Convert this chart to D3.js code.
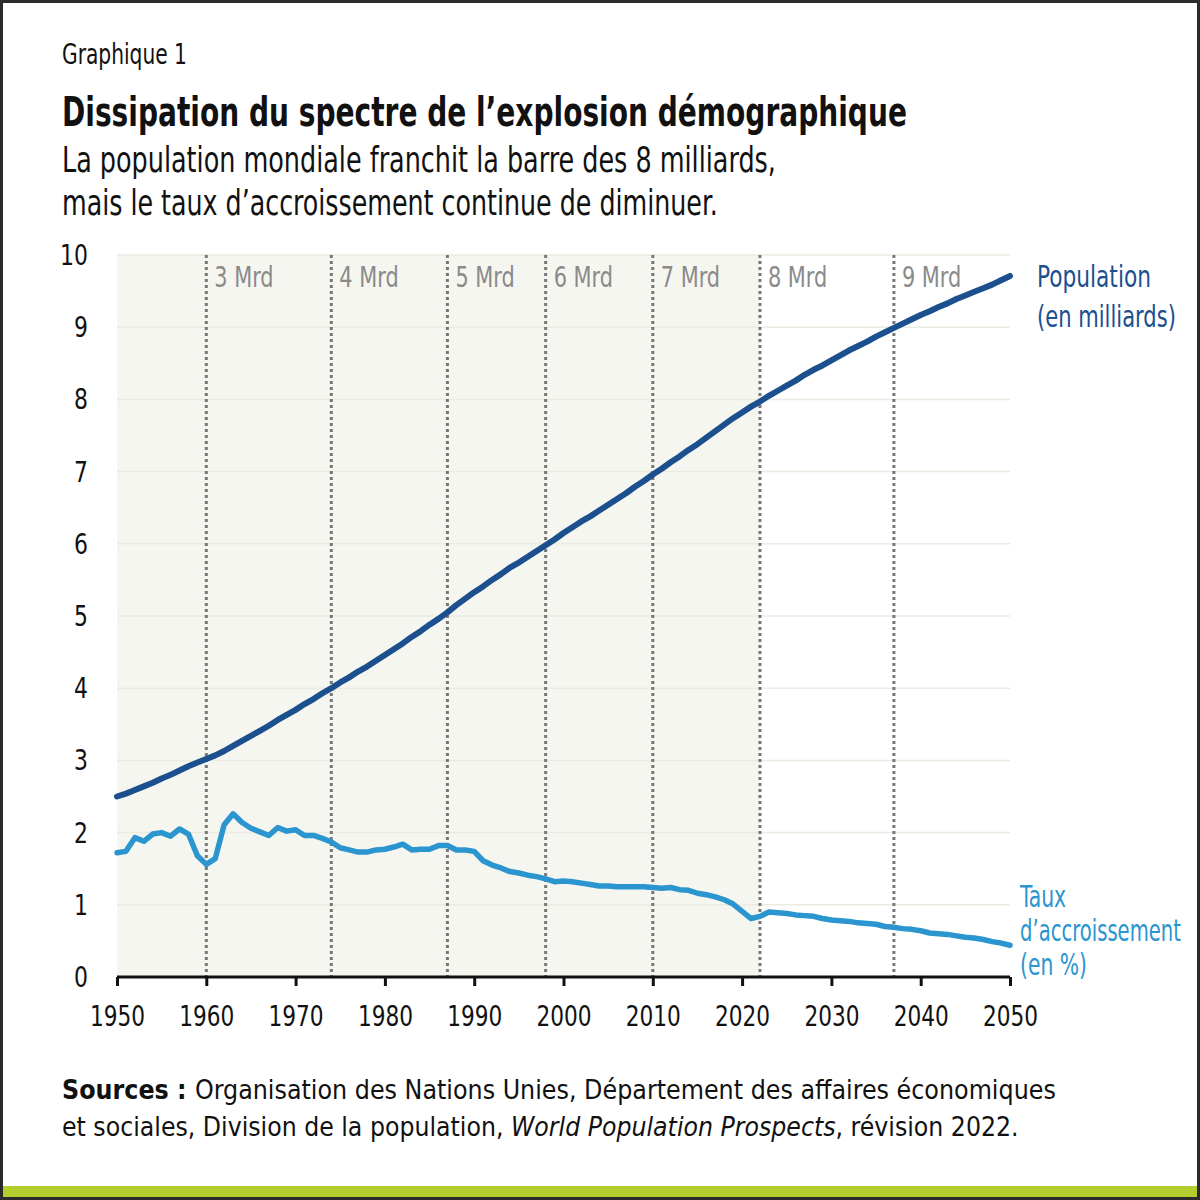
<!DOCTYPE html>
<html>
<head>
<meta charset="utf-8">
<script src="https://cdn.jsdelivr.net/npm/d3@7"></script>
<style>
  body { margin: 0; background: #fff; }
  svg text { font-family: "DejaVu Sans", "Liberation Sans", sans-serif; font-stretch: condensed; }
</style>
</head>
<body>
<svg id="chart" width="1200" height="1200"></svg>
<script>
// years 1950..2050
var years = d3.range(1950, 2051);

// world population, billions
var population = [
  2.50, 2.54, 2.59, 2.64, 2.69, 2.75, 2.80, 2.86, 2.92, 2.97,
  3.02, 3.07, 3.13, 3.20, 3.27, 3.34, 3.41, 3.48, 3.56, 3.63,
  3.70, 3.78, 3.85, 3.93, 4.00, 4.08, 4.15, 4.23, 4.30, 4.38,
  4.46, 4.54, 4.62, 4.71, 4.79, 4.88, 4.96, 5.05, 5.15, 5.24,
  5.33, 5.41, 5.50, 5.58, 5.67, 5.74, 5.82, 5.90, 5.98, 6.06,
  6.15, 6.23, 6.31, 6.38, 6.46, 6.54, 6.62, 6.70, 6.79, 6.87,
  6.96, 7.04, 7.13, 7.21, 7.30, 7.38, 7.47, 7.56, 7.65, 7.74,
  7.82, 7.90, 7.97, 8.05, 8.12, 8.19, 8.26, 8.34, 8.41, 8.47,
  8.54, 8.61, 8.68, 8.74, 8.80, 8.87, 8.93, 8.99, 9.05, 9.11,
  9.17, 9.22, 9.28, 9.33, 9.39, 9.44, 9.49, 9.54, 9.59, 9.65,
  9.71
];

// annual growth rate, %
var growth = [
  1.72, 1.74, 1.93, 1.88, 1.98, 2.00, 1.95, 2.05, 1.98, 1.68,
  1.56, 1.64, 2.11, 2.26, 2.14, 2.06, 2.01, 1.96, 2.07, 2.02,
  2.04, 1.96, 1.96, 1.92, 1.87, 1.79, 1.76, 1.73, 1.73, 1.76,
  1.77, 1.80, 1.84, 1.76, 1.77, 1.77, 1.82, 1.82, 1.76, 1.76,
  1.74, 1.61, 1.55, 1.51, 1.46, 1.44, 1.41, 1.39, 1.36, 1.32,
  1.33, 1.32, 1.30, 1.28, 1.26, 1.26, 1.25, 1.25, 1.25, 1.25,
  1.24, 1.23, 1.24, 1.21, 1.20, 1.16, 1.14, 1.11, 1.07, 1.01,
  0.91, 0.81, 0.84, 0.90, 0.89, 0.88, 0.86, 0.85, 0.84, 0.81,
  0.79, 0.78, 0.77, 0.75, 0.74, 0.73, 0.70, 0.69, 0.67, 0.66,
  0.64, 0.61, 0.60, 0.59, 0.57, 0.55, 0.54, 0.52, 0.49, 0.47,
  0.44
];

// years each billion was reached
var milestoneYears  = [1960, 1974, 1987, 1998, 2010, 2022, 2037];
var milestoneLabels = ["3 Mrd", "4 Mrd", "5 Mrd", "6 Mrd", "7 Mrd", "8 Mrd", "9 Mrd"];

var xTicks = d3.range(1950, 2051, 10);
var yTicks = d3.range(0, 11, 1);
var lastObserved = 2022;

var svg = d3.select('#chart');

var margin = {left: 117, right: 190, top: 255, bottom: 223};
var width  = 1200 - margin.left - margin.right;
var height = 1200 - margin.top - margin.bottom;

var x = d3.scaleLinear().domain([1950, 2050]).range([margin.left, margin.left + width]);
var y = d3.scaleLinear().domain([0, 10]).range([margin.top + height, margin.top]);

// squeeze a text horizontally (no condensed font installed)
function squeeze(node, k, ox) {
  d3.select(node).attr('transform',
    'translate(' + ox + ',0) scale(' + k + ',1) translate(' + (-ox) + ',0)');
}
function fitWidth(sel, target, ox) {
  var w = sel.node().getBBox().width;
  squeeze(sel.node(), target / w, ox);
}

// frame + bottom band
svg.append('rect')
  .attr('x', 1.5).attr('y', 1.5).attr('width', 1197).attr('height', 1197)
  .attr('fill', '#fff').attr('stroke', '#2b2b2b').attr('stroke-width', 3);
svg.append('rect')
  .attr('x', 3).attr('y', 1186).attr('width', 1194).attr('height', 11)
  .attr('fill', '#b5cc2e');

// header
var t0 = svg.append('text').attr('x', 62).attr('y', 64)
  .style('font-size', '29px').attr('fill', '#111').text('Graphique 1');
fitWidth(t0, 125, 62);
var t1 = svg.append('text').attr('x', 62).attr('y', 126)
  .style('font-size', '40px').style('font-weight', 'bold').attr('fill', '#111')
  .text('Dissipation du spectre de l\u2019explosion démographique');
fitWidth(t1, 845, 62);
var t2 = svg.append('text').attr('x', 62).attr('y', 172)
  .style('font-size', '35px').attr('fill', '#111')
  .text('La population mondiale franchit la barre des 8 milliards,');
fitWidth(t2, 714, 62);
var t3 = svg.append('text').attr('x', 62).attr('y', 215)
  .style('font-size', '35px').attr('fill', '#111')
  .text('mais le taux d\u2019accroissement continue de diminuer.');
fitWidth(t3, 656, 62);

// shaded past period
svg.append('rect')
  .attr('x', x(1950)).attr('y', y(10))
  .attr('width', x(lastObserved) - x(1950)).attr('height', y(0) - y(10))
  .attr('fill', '#f6f6f0');

// gridlines
svg.append('g').selectAll('line')
  .data(yTicks.filter(function(d) { return d > 0; }))
  .enter().append('line')
  .attr('x1', x(1950)).attr('x2', x(2050))
  .attr('y1', function(d) { return y(d); })
  .attr('y2', function(d) { return y(d); })
  .attr('stroke', '#ebebe2').attr('stroke-width', 1.5);

// milestone lines
var ms = svg.append('g').selectAll('g')
  .data(milestoneYears)
  .enter().append('g');
ms.append('line')
  .attr('x1', function(d) { return x(d); })
  .attr('x2', function(d) { return x(d); })
  .attr('y1', y(10)).attr('y2', y(0))
  .attr('stroke', '#777').attr('stroke-width', 3)
  .attr('stroke-dasharray', '3,3');
ms.append('text')
  .attr('x', function(d) { return x(d) + 8; })
  .attr('y', 287)
  .style('font-size', '29px').attr('fill', '#8a8a8a')
  .text(function(d, i) { return milestoneLabels[i]; })
  .each(function(d) { squeeze(this, 0.8, x(d) + 8); });

// y axis labels
svg.append('g').selectAll('text')
  .data(yTicks)
  .enter().append('text')
  .attr('x', 88)
  .attr('y', function(d) { return y(d) + 10; })
  .attr('text-anchor', 'end')
  .style('font-size', '29px').attr('fill', '#111')
  .text(function(d) { return d; })
  .each(function() { squeeze(this, 0.84, 88); });

// x axis
var xAxis = d3.axisBottom(x).tickValues(xTicks).tickFormat(d3.format('d')).tickSize(9);
var gx = svg.append('g')
  .attr('transform', 'translate(0,' + y(0) + ')')
  .call(xAxis);
gx.select('.domain').attr('stroke', '#111').attr('stroke-width', 3)
  .attr('d', 'M' + x(1950) + ',0H' + x(2050));
gx.selectAll('.tick line').attr('stroke', '#111').attr('stroke-width', 3);
gx.selectAll('.tick text')
  .attr('y', 28)
  .style('font-size', '29px').attr('fill', '#111')
  .each(function() { squeeze(this, 0.83, 0); });

// lines
var line = d3.line()
  .x(function(d) { return x(d[0]); })
  .y(function(d) { return y(d[1]); });

svg.append('path')
  .datum(years.map(function(yr, i) { return [yr, growth[i]]; }))
  .attr('d', line)
  .attr('fill', 'none').attr('stroke', '#2a95cf')
  .attr('stroke-width', 5.5).attr('stroke-linejoin', 'round').attr('stroke-linecap', 'round');

svg.append('path')
  .datum(years.map(function(yr, i) { return [yr, population[i]]; }))
  .attr('d', line)
  .attr('fill', 'none').attr('stroke', '#1b4f8e')
  .attr('stroke-width', 6).attr('stroke-linejoin', 'round').attr('stroke-linecap', 'round');

// series labels
var popLines = [['Population', 287, 114], ['(en milliards)', 327, 139]];
popLines.forEach(function(p) {
  var t = svg.append('text').attr('x', 1037).attr('y', p[1])
    .style('font-size', '30px').attr('fill', '#1b4f8e').text(p[0]);
  fitWidth(t, p[2], 1037);
});
var rateLines = [['Taux', 907, 47], ['d\u2019accroissement', 941, 161], ['(en %)', 975, 67]];
rateLines.forEach(function(p) {
  var t = svg.append('text').attr('x', 1020).attr('y', p[1])
    .style('font-size', '30px').attr('fill', '#2a95cf').text(p[0]);
  fitWidth(t, p[2], 1020);
});

// sources
var src = svg.append('text').attr('x', 62).attr('y', 1099)
  .style('font-size', '27px').attr('fill', '#111');
src.append('tspan').style('font-weight', 'bold').text('Sources : ');
src.append('tspan').text('Organisation des Nations Unies, Département des affaires économiques');
fitWidth(src, 994, 62);
var src2 = svg.append('text').attr('x', 62).attr('y', 1136)
  .style('font-size', '27px').attr('fill', '#111');
src2.append('tspan').text('et sociales, Division de la population, ');
src2.append('tspan').style('font-style', 'italic').text('World Population Prospects');
src2.append('tspan').text(', révision 2022.');
fitWidth(src2, 957, 62);
</script>
</body>
</html>
